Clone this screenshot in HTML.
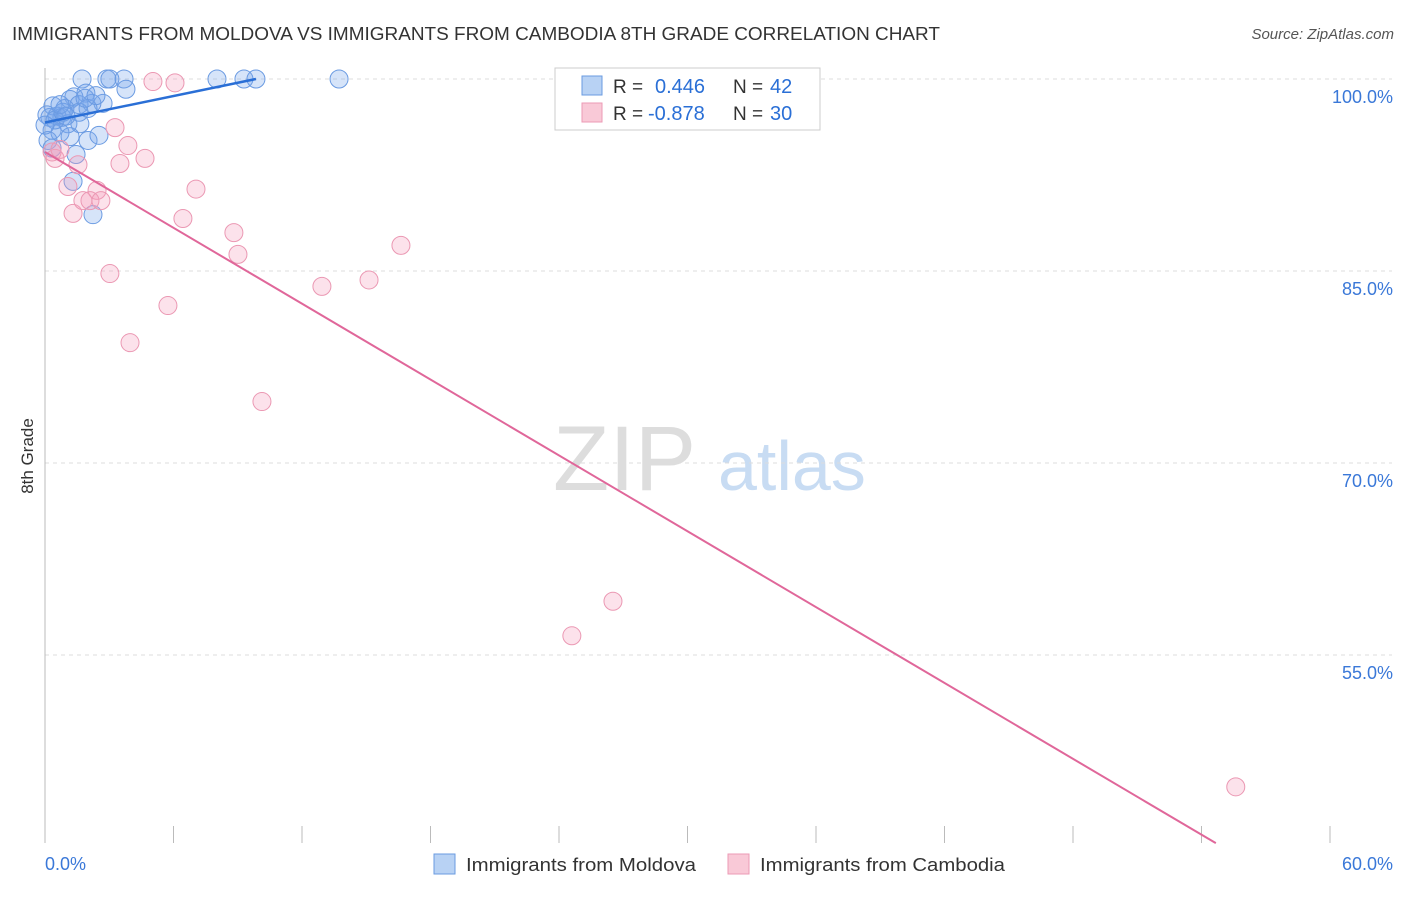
<!DOCTYPE html>
<html><head><meta charset="utf-8"><style>
body{margin:0;background:#fff;font-family:"Liberation Sans",sans-serif;}
svg text{font-family:"Liberation Sans",sans-serif;}
</style></head><body>
<svg id="chart" width="1406" height="892" xmlns="http://www.w3.org/2000/svg">
<text x="12" y="40" font-size="18" fill="#333" textLength="928" lengthAdjust="spacingAndGlyphs">IMMIGRANTS FROM MOLDOVA VS IMMIGRANTS FROM CAMBODIA 8TH GRADE CORRELATION CHART</text>
<text x="1394" y="39" font-size="15" fill="#555" text-anchor="end" font-style="italic">Source: ZipAtlas.com</text>
<text x="553" y="490" font-size="92" fill="#ddd" font-family="Liberation Serif">ZIP</text>
<text x="718" y="490" font-size="70" fill="#c8dcf3">atlas</text>
<text transform="translate(33,456) rotate(-90)" font-size="17" fill="#333" text-anchor="middle">8th Grade</text>
<g id="grid"></g><g id="axes"></g><g id="pts"></g><g id="lines"></g>
<g>
<rect x="555" y="68" width="265" height="62" fill="#fff" stroke="#ccc"/>
<rect x="582" y="76" width="20" height="19" fill="#b8d2f4" stroke="#6a9be0"/>
<rect x="582" y="103" width="20" height="19" fill="#f9c9d7" stroke="#ec9ab5"/>
<text x="613" y="93" font-size="19" fill="#333">R =</text>
<text x="655" y="93" font-size="20" fill="#2a6fd6">0.446</text>
<text x="733" y="93" font-size="19" fill="#333">N =</text>
<text x="770" y="93" font-size="20" fill="#2a6fd6">42</text>
<text x="613" y="120" font-size="19" fill="#333">R =</text>
<text x="648" y="120" font-size="20" fill="#2a6fd6">-0.878</text>
<text x="733" y="120" font-size="19" fill="#333">N =</text>
<text x="770" y="120" font-size="20" fill="#2a6fd6">30</text>
</g>
<g>
<rect x="434" y="854" width="21" height="20" fill="#b8d2f4" stroke="#6a9be0"/>
<text x="466" y="871" font-size="18" fill="#333" textLength="230" lengthAdjust="spacingAndGlyphs">Immigrants from Moldova</text>
<rect x="728" y="854" width="21" height="20" fill="#f9c9d7" stroke="#ec9ab5"/>
<text x="760" y="871" font-size="18" fill="#333" textLength="245" lengthAdjust="spacingAndGlyphs">Immigrants from Cambodia</text>
</g>
</svg>
<script>
const yTicks=[100,85,70,55];
const xTickLabels=["0.0%","60.0%"];
const blueX=[1.73,2.89,3.03,3.69,8.03,9.29,9.85,13.73,3.78,1.91,1.35,2.71,2.19,0.37,1.17,1.59,0.93,2.01,0.23,0.56,0.79,0.09,1.59,1.07,1.63,0.33,0.70,1.17,2.01,2.52,0.14,0.33,1.45,1.31,2.24,0.47,0.84,1.87,2.38,0.70,0,0.98];
const blueY=[100,100,100,100,100,100,100,100,99.2,98.9,98.6,98.1,98.1,97.9,98.4,98.0,97.7,97.7,97.0,97.1,97.0,97.2,97.4,96.5,96.5,96.0,95.8,95.5,95.2,95.6,95.2,94.6,94.1,92.0,89.4,96.8,97.4,98.5,98.7,98.0,96.4,97.1];
const pinkX=[5.04,6.07,3.27,3.87,4.67,3.50,1.54,0.47,0.33,0.70,1.07,2.43,7.05,1.31,1.77,2.10,2.61,6.44,8.82,9.01,16.62,3.03,15.13,12.93,5.74,3.97,10.13,26.52,24.60,55.60];
const pinkY=[99.8,99.7,96.2,94.8,93.8,93.4,93.3,93.8,94.3,94.5,91.6,91.3,91.4,89.5,90.5,90.5,90.5,89.1,88.0,86.3,87.0,84.8,84.3,83.8,82.3,79.4,74.8,59.2,56.5,44.7];
const blueLine=[[0,96.6],[9.85,100]];
const pinkLine=[[0,94.3],[54.67,40.3]];
const NS="http://www.w3.org/2000/svg";
const sx=v=>45+v*1285/60, sy=v=>79+(100-v)*12.8;
function mk(t,a,p){const e=document.createElementNS(NS,t);for(const k in a)e.setAttribute(k,a[k]);p.appendChild(e);return e;}
const grid=document.getElementById('grid'),axes=document.getElementById('axes'),pts=document.getElementById('pts'),lines=document.getElementById('lines');
yTicks.forEach(v=>{
 const l=mk('line',{x1:45,x2:1392,y1:sy(v),y2:sy(v),stroke:'#ddd','stroke-dasharray':'4,4'},grid);
 
 
 const t=mk('text',{x:1393,y:sy(v)+24,'font-size':18,fill:'#3a78d8','text-anchor':'end'},grid);
 t.textContent=v.toFixed(1)+'%';
 
 
});
const ya=mk('line',{x1:45,x2:45,y1:68,y2:843,stroke:'#bbb'},axes);


for(let i=0;i<=10;i++){
 const tk=mk('line',{x1:sx(i*6),x2:sx(i*6),y1:826,y2:843,stroke:'#bbb'},axes);
 
 
}
[[0,'start',45],[1,'end',1393]].forEach(([i,a,x])=>{
 const t=mk('text',{x:x,y:870,'font-size':18,fill:'#3a78d8','text-anchor':a},axes);
 t.textContent=xTickLabels[i];
 
 
});
blueX.forEach((x,i)=>{
 const c=mk('circle',{cx:sx(x),cy:sy(blueY[i]),r:9,fill:'rgba(120,165,235,0.3)',stroke:'#6b9be2','stroke-width':1},pts);
 
 
});
pinkX.forEach((x,i)=>{
 const c=mk('circle',{cx:sx(x),cy:sy(pinkY[i]),r:9,fill:'rgba(245,160,190,0.3)',stroke:'#eb98b3','stroke-width':1},pts);
 
 
});
const bl=mk('line',{x1:sx(blueLine[0][0]),y1:sy(blueLine[0][1]),x2:sx(blueLine[1][0]),y2:sy(blueLine[1][1]),stroke:'#2a6fd6','stroke-width':2.5},lines);


const pl=mk('line',{x1:sx(pinkLine[0][0]),y1:sy(pinkLine[0][1]),x2:sx(pinkLine[1][0]),y2:sy(pinkLine[1][1]),stroke:'#e0679a','stroke-width':2},lines);


</script>
</body></html>
